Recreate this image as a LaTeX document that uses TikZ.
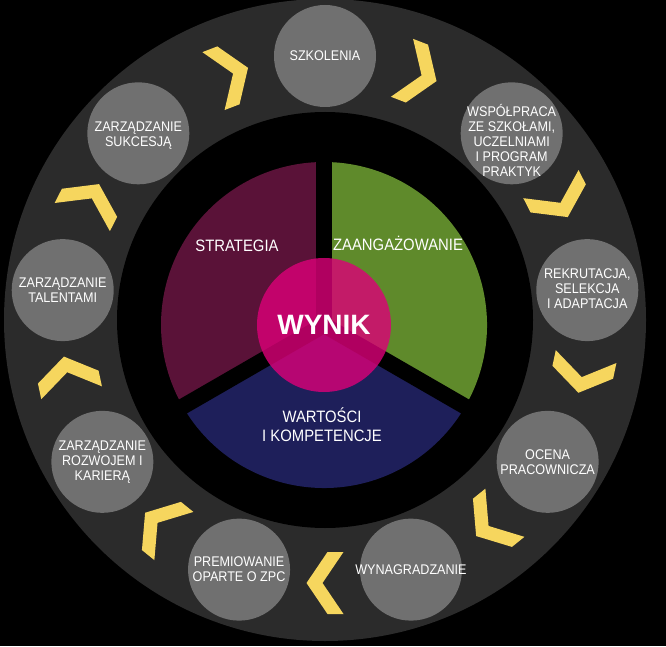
\documentclass[tikz,border=0pt]{standalone}
\usepackage{fontspec}
\setmainfont{Liberation Sans}
\newfontfamily\labfont[FakeStretch=0.9]{Liberation Sans}
\usetikzlibrary{calc}
\definecolor{ringgray}{RGB}{43,43,43}
\definecolor{stepgray}{RGB}{112,112,112}
\definecolor{chev}{RGB}{246,214,94}
\definecolor{strat}{RGB}{90,18,56}
\definecolor{zaang}{RGB}{95,138,43}
\definecolor{wart}{RGB}{30,31,90}
\definecolor{wynikc}{RGB}{220,0,120}
\begin{document}
\begin{tikzpicture}[x=1pt,y=1pt,
  stepnode/.style={circle, fill=stepgray, minimum size=102pt, inner sep=0pt},
  steptext/.style={text=white, align=center, inner sep=0pt, font=\labfont\fontsize{14}{15}\selectfont},
  sectorlabel/.style={text=white, align=center, inner sep=0pt, font=\labfont\fontsize{16.5}{19}\selectfont},
  chevron/.style={fill=chev}
]
\fill[black] (0,0) rectangle (666,646);
\useasboundingbox (0,0) rectangle (666,646);
\coordinate (C) at (325,326);
\coordinate (M) at (324,321);
% ring
\fill[ringgray] (C) circle (321);
\fill[black] (C) circle (208);
% sectors
\fill[strat] (M) -- ++(90:163) arc (90:210:163) -- cycle;
\fill[zaang] (M) -- ++(-30:163) arc (-30:90:163) -- cycle;
\fill[wart] (M) -- ++(210:163) arc (210:330:163) -- cycle;
\foreach \a in {90,210,330} \draw[black, line width=16pt] (M) -- ++(\a:170);
% centre
\node[circle, minimum size=134pt, inner sep=0pt, fill=wynikc, fill opacity=0.8, text opacity=1, text=white, font=\bfseries\fontsize{28}{30}\selectfont] (wynik) at (M) {WYNIK};
\node[sectorlabel] (strategia) at (237,400) {STRATEGIA};
\node[sectorlabel] (zaangazowanie) at (398,403) {ZAANGAŻOWANIE};
\node[sectorlabel] (wartosci) at (322,221) {WARTOŚCI\\I KOMPETENCJE};
% chevrons
\foreach \a in {111,69,27,-12,-51,-90,-129,192,153} {
  \begin{scope}[shift={(C)}, rotate=\a]
    \fill[chevron] (294,18.5) -- (294,2.5) -- (263,-18.5) -- (232,2.5) -- (232,18.5) -- (263,-2.5) -- cycle;
  \end{scope}
}
% steps
\node[stepnode] (s1) at ($(C)+(90:264)$) {};
\node[stepnode] (s2) at ($(C)+(45:264)$) {};
\node[stepnode] (s3) at ($(C)+(6.5:264)$) {};
\node[stepnode] (s4) at ($(C)+(-32.5:264)$) {};
\node[stepnode] (s5) at ($(C)+(-71:264)$) {};
\node[stepnode] (s6) at ($(C)+(-109:264)$) {};
\node[stepnode] (s7) at ($(C)+(-147.5:264)$) {};
\node[stepnode] (s8) at ($(C)+(173.5:264)$) {};
\node[stepnode] (s9) at ($(C)+(135:264)$) {};
\node[steptext] (t1) at (s1) {SZKOLENIA};
\node[steptext] (t2) at ($(s2)+(0,-7)$) {WSPÓŁPRACA\\ZE SZKOŁAMI,\\UCZELNIAMI\\I PROGRAM\\PRAKTYK};
\node[steptext] (t3) at ($(s3)+(0,1)$) {REKRUTACJA,\\SELEKCJA\\I ADAPTACJA};
\node[steptext] (t4) at (s4) {OCENA\\PRACOWNICZA};
\node[steptext] (t5) at (s5) {WYNAGRADZANIE};
\node[steptext] (t6) at (s6) {PREMIOWANIE\\OPARTE O ZPC};
\node[steptext] (t7) at (s7) {ZARZĄDZANIE\\ROZWOJEM I\\KARIERĄ};
\node[steptext] (t8) at (s8) {ZARZĄDZANIE\\TALENTAMI};
\node[steptext] (t9) at ($(s9)+(0,-2)$) {ZARZĄDZANIE\\SUKCESJĄ};
\end{tikzpicture}
\end{document}
